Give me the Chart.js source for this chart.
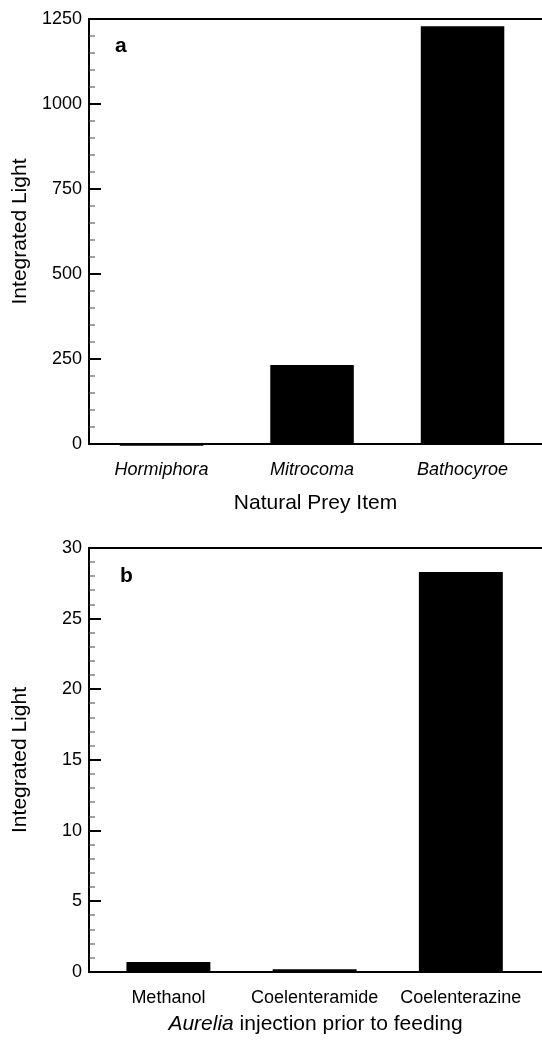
<!DOCTYPE html>
<html>
<head>
<meta charset="utf-8">
<title>Integrated Light</title>
<script src="https://cdn.jsdelivr.net/npm/chart.js@4.4.1/dist/chart.umd.min.js"></script>
<style>
  html, body { margin: 0; padding: 0; background: #fff; overflow: hidden; }
  #wrap { position: relative; width: 542px; height: 1041px; }
  canvas { position: absolute; left: 0; }
  #chartA { top: 0; }
  #chartB { top: 520px; }
</style>
</head>
<body>
<div id="wrap">
  <canvas id="chartA" width="542" height="520"></canvas>
  <canvas id="chartB" width="542" height="521"></canvas>
</div>
<script>
/* ── DATA ──────────────────────────────────────────────────── */
const preyItems  = ['Hormiphora', 'Mitrocoma', 'Bathocyroe'];
const preyLight  = [-5, 232, 1229];
const preyTicks  = [0, 250, 500, 750, 1000, 1250];

const injections     = ['Methanol', 'Coelenteramide', 'Coelenterazine'];
const injectionLight = [0.7, 0.2, 28.3];
const injectionTicks = [0, 5, 10, 15, 20, 25, 30];

/* ── DEFAULTS ──────────────────────────────────────────────── */
Chart.defaults.font.family = '"Liberation Sans", Arial, sans-serif';
Chart.defaults.color = '#000';

/* ── FRAME PLUGIN: inward ticks, top line, panel letter ────── */
const framePlugin = {
  id: 'frame',
  afterDraw(chart, args, opts) {
    const { ctx, chartArea: ca, scales: { x, y } } = chart;
    ctx.save();
    ctx.strokeStyle = '#000';

    // ticks point into the plot, long ones at labelled values
    y.ticks.forEach(t => {
      const py = Math.round(y.getPixelForValue(t.value));
      const major = opts.majors.includes(t.value);
      ctx.lineWidth = major ? 2 : 1;
      ctx.strokeStyle = major ? '#000' : '#444';
      ctx.beginPath();
      ctx.moveTo(ca.left, py);
      ctx.lineTo(ca.left + (major ? 12 : 6), py);
      ctx.stroke();
    });

    // top edge of the box
    ctx.strokeStyle = '#000';
    ctx.lineWidth = 2;
    ctx.beginPath();
    ctx.moveTo(ca.left - 1, ca.top);
    ctx.lineTo(ca.right, ca.top);
    ctx.stroke();

    // panel letter
    ctx.fillStyle = '#000';
    ctx.font = 'bold 21px "Liberation Sans", Arial, sans-serif';
    ctx.textBaseline = 'alphabetic';
    ctx.fillText(opts.letter, ca.left + opts.letterDx, ca.top + opts.letterDy);

    // x title made of italic + upright parts
    if (opts.titleParts) {
      const fonts = opts.titleParts.map(p =>
        (p[1] ? 'italic ' : '') + '21px "Liberation Sans", Arial, sans-serif');
      let total = 0;
      const widths = opts.titleParts.map((p, i) => {
        ctx.font = fonts[i];
        const w = ctx.measureText(p[0]).width;
        total += w;
        return w;
      });
      let tx = (x.left + x.right) / 2 - total / 2;
      const ty = x.bottom - opts.titleBottom;
      ctx.textBaseline = 'middle';
      opts.titleParts.forEach((p, i) => {
        ctx.font = fonts[i];
        ctx.fillText(p[0], tx, ty);
        tx += widths[i];
      });
    }
    ctx.restore();
  }
};

/* ── CHART BUILDER ─────────────────────────────────────────── */
function makePanel(id, cats, values, majors, cfg) {
  const ctx = document.getElementById(id);
  return new Chart(ctx, {
    type: 'bar',
    data: {
      datasets: [{
        data: values.map((v, i) => ({ x: i, y: v })),
        backgroundColor: '#000',
        borderWidth: 0,
        categoryPercentage: 1,
        barPercentage: cfg.barPct,
        clip: false
      }]
    },
    options: {
      responsive: false,
      animation: false,
      layout: { padding: { top: cfg.top, right: 0, left: 0, bottom: 0 } },
      plugins: {
        legend: { display: false },
        tooltip: { enabled: false },
        frame: {
          majors,
          letter: cfg.letter,
          letterDx: cfg.letterDx,
          letterDy: cfg.letterDy,
          titleParts: cfg.titleParts,
          titleBottom: cfg.titleBottom
        }
      },
      scales: {
        x: {
          type: 'linear',
          min: cfg.xMin,
          max: cfg.xMax,
          offset: false,
          bounds: 'data',
          grid: { display: false, drawTicks: false },
          border: { display: true, color: '#000', width: 2 },
          afterBuildTicks: s => { s.ticks = cats.map((c, i) => ({ value: i })); },
          afterFit: s => { s.height = cfg.xHeight; },
          ticks: {
            autoSkip: false,
            maxRotation: 0,
            padding: 15,
            font: { size: 18, style: cfg.italicCats ? 'italic' : 'normal' },
            callback: v => cats[v]
          },
          title: {
            display: !!cfg.xTitle,
            text: cfg.xTitle || '',
            font: { size: 21 },
            padding: { top: 0, bottom: 4 }
          }
        },
        y: {
          min: 0,
          max: majors[majors.length - 1],
          grid: { display: false, drawTicks: false },
          border: { display: true, color: '#000', width: 2 },
          afterFit: s => { s.width = 89; },
          ticks: {
            stepSize: cfg.minorStep,
            autoSkip: false,
            padding: 7,
            font: { size: 18 },
            callback: v => (majors.includes(v) ? v : '')
          },
          title: {
            display: true,
            text: 'Integrated Light',
            font: { size: 21 },
            padding: { top: 8, bottom: 0 }
          }
        }
      }
    },
    plugins: [framePlugin]
  });
}

/* ── PANELS ────────────────────────────────────────────────── */
makePanel('chartA', preyItems, preyLight, preyTicks, {
  top: 19, xHeight: 76,
  xMin: -0.482, xMax: 2.528, barPct: 0.555,
  minorStep: 50, italicCats: true,
  xTitle: 'Natural Prey Item',
  letter: 'a', letterDx: 26, letterDy: 33
});

makePanel('chartB', injections, injectionLight, injectionTicks, {
  top: 28, xHeight: 69,
  xMin: -0.543, xMax: 2.555, barPct: 0.574,
  minorStep: 1, italicCats: false,
  titleParts: [['Aurelia', true], [' injection prior to feeding', false]],
  titleBottom: 17,
  letter: 'b', letterDx: 31, letterDy: 34
});
</script>
</body>
</html>
